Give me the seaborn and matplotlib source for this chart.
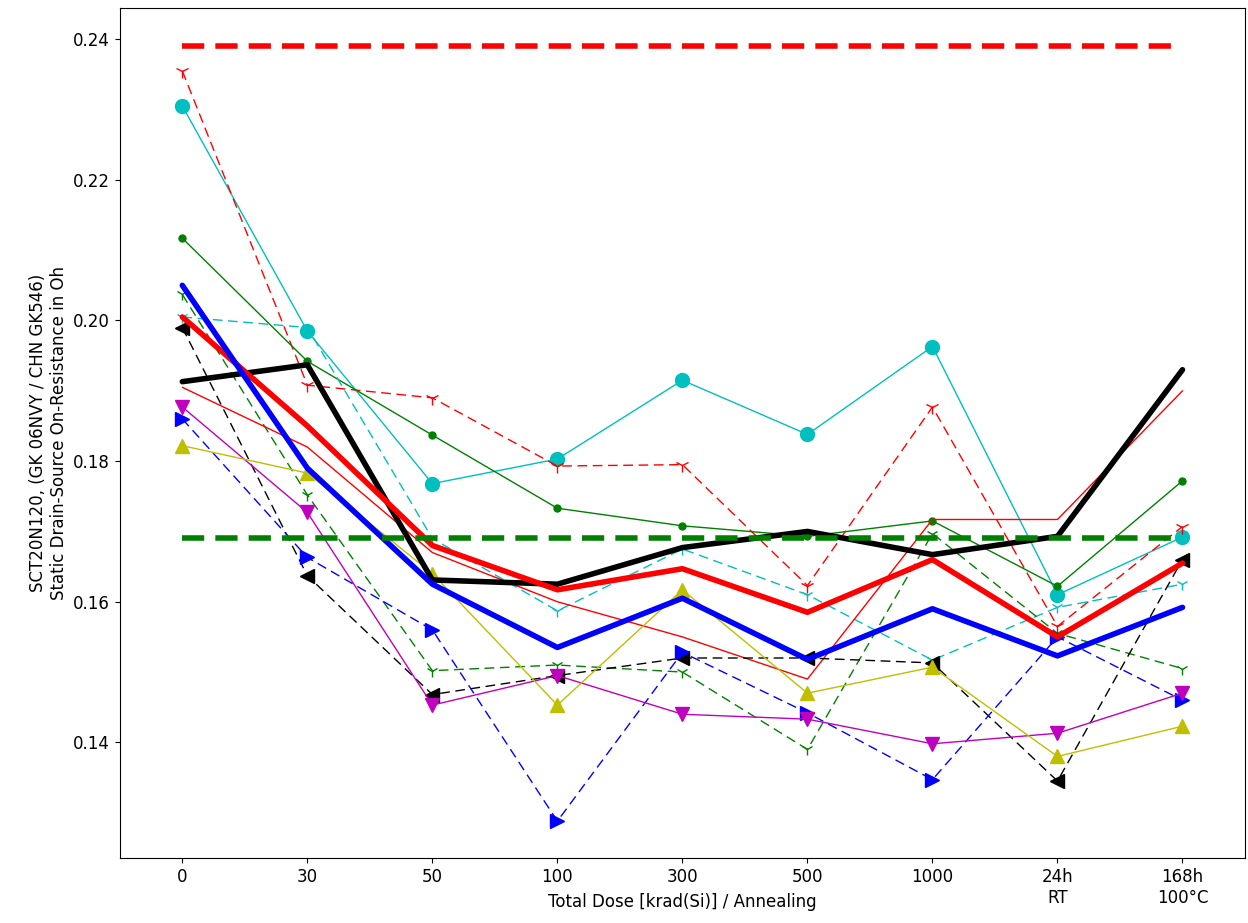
import matplotlib
matplotlib.use("Agg")
import matplotlib.pyplot as plt
import seaborn as sns
import pandas as pd
import numpy as np

sns.set_style("ticks", {"axes.edgecolor": "black", "xtick.color": "black", "ytick.color": "black", "text.color": "black", "axes.labelcolor": "black"})
plt.rcParams['font.family'] = ['DejaVu Sans']

ticks = ["0", "30", "50", "100", "300", "500", "1000", "24h\nRT", "168h\n100°C"]
limit_red = 0.239
limit_green = 0.169
black_thick = [0.1913, 0.1937, 0.1631, 0.1625, 0.1677, 0.1700, 0.1667, 0.1693, 0.1930]
red_thick = [0.2005, 0.1850, 0.1680, 0.1617, 0.1647, 0.1585, 0.1660, 0.1550, 0.1655]
blue_thick = [0.2050, 0.1790, 0.1625, 0.1535, 0.1605, 0.1518, 0.1590, 0.1523, 0.1592]
cyan_circ = [0.2305, 0.1985, 0.1768, 0.1803, 0.1915, 0.1838, 0.1963, 0.1610, 0.1692]
red_dash = [0.2355, 0.1908, 0.1890, 0.1793, 0.1795, 0.1623, 0.1877, 0.1565, 0.1707]
green_dot = [0.2117, 0.1942, 0.1837, 0.1733, 0.1708, 0.1693, 0.1715, 0.1622, 0.1772]
cyan_dash = [0.2005, 0.1990, 0.1690, 0.1587, 0.1675, 0.1610, 0.1517, 0.1592, 0.1625]
green_dash = [0.2037, 0.1752, 0.1502, 0.1510, 0.1500, 0.1390, 0.1697, 0.1555, 0.1505]
red_thin = [0.1905, 0.1820, 0.1670, 0.1600, 0.1550, 0.1490, 0.1717, 0.1717, 0.1900]
black_dash = [0.1990, 0.1637, 0.1468, 0.1495, 0.1520, 0.1520, 0.1513, 0.1345, 0.1660]
blue_dash = [0.1860, 0.1663, 0.1560, 0.1288, 0.1528, 0.1442, 0.1347, 0.1550, 0.1460]
magenta = [0.1877, 0.1727, 0.1453, 0.1495, 0.1440, 0.1433, 0.1398, 0.1413, 0.1470]
yellow = [0.1822, 0.1783, 0.1640, 0.1453, 0.1617, 0.1470, 0.1507, 0.1380, 0.1423]

x = np.arange(len(ticks))
fig = plt.figure(figsize=(12.48, 9.23), dpi=100)
ax = fig.add_axes([0.096, 0.070, 0.9016, 0.921])

DASH = (0, (7, 4))

def draw(y, color, ls="-", lw=1, marker=None, ms=8):
    sns.lineplot(x=x, y=y, ax=ax, color=color, linestyle=ls, linewidth=lw,
                 marker=marker, markersize=ms, markeredgecolor=color, markeredgewidth=1)

draw(cyan_circ, "c", "-", 1, "o", 10)
draw(red_dash, "r", DASH, 1, "1", 10)
draw(green_dot, "g", "-", 1, "o", 5)
draw(cyan_dash, "c", DASH, 1, "1", 9)
draw(green_dash, "g", DASH, 1, "1", 9)
draw(red_thin, "r", "-", 1)
draw(black_dash, "k", DASH, 1, "<", 10)
draw(blue_dash, "b", DASH, 1, ">", 10)
draw(magenta, "m", "-", 1, "v", 10)
draw(yellow, "y", "-", 1, "^", 10)
draw(black_thick, "k", "-", 4)
draw(red_thick, "r", "-", 4)
draw(blue_thick, "b", "-", 4)
draw([limit_red] * len(x), "r", (0, (4, 2)), 4)
draw([limit_green] * len(x), "g", (0, (4, 2)), 4)

ax.set_xlim(-0.5, 8.5)
ax.set_ylim(0.1235, 0.2444)
ax.set_yticks([0.14, 0.16, 0.18, 0.20, 0.22, 0.24])
ax.set_yticklabels(["0.14", "0.16", "0.18", "0.20", "0.22", "0.24"])
ax.set_xticks(x)
ax.set_xticklabels(ticks, fontsize=12, va="top")
ax.tick_params(axis="y", labelsize=12)
ax.set_xlabel("Total Dose [krad(Si)] / Annealing", fontsize=12, labelpad=-10)
ax.set_ylabel("SCT20N120, (GK 06NVY / CHN GK546)\nStatic Drain-Source On-Resistance in Oh", fontsize=12)
fig.savefig("out.png", dpi=100)
